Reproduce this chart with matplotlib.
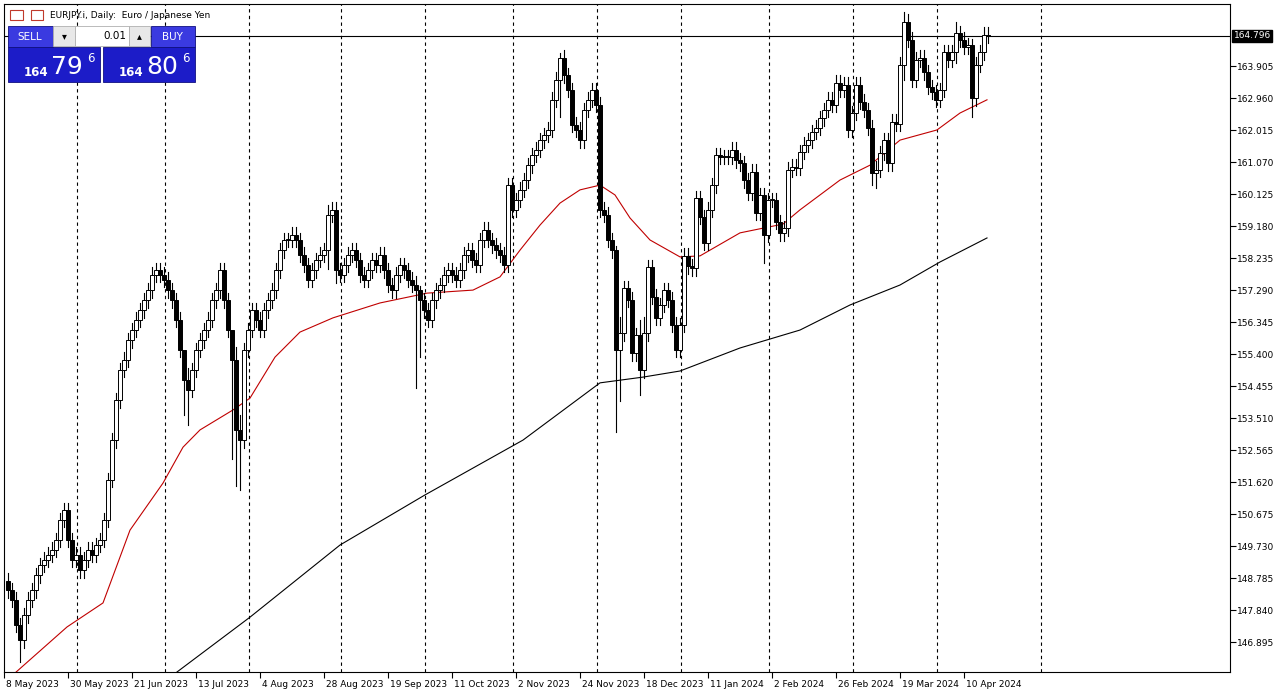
import matplotlib
matplotlib.use("Agg")
import matplotlib.pyplot as plt
from matplotlib.patches import Rectangle
import numpy as np

closes = [148.43,148.14,147.40,146.95,147.69,148.14,148.43,148.87,149.17,149.32,
149.47,149.62,149.91,150.50,150.79,149.91,149.32,149.47,149.02,149.32,
149.62,149.47,149.76,149.91,150.50,151.68,152.86,154.04,154.93,155.23,
155.81,156.11,156.41,156.70,156.99,157.29,157.74,157.88,157.74,157.59,
157.29,156.99,156.41,155.52,154.63,154.34,154.93,155.52,155.81,156.11,
156.41,156.99,157.29,157.88,156.99,156.11,155.23,153.16,152.86,155.52,
156.11,156.70,156.41,156.11,156.70,156.99,157.29,157.88,158.47,158.77,
158.77,158.92,158.77,158.33,158.03,157.59,157.88,158.18,158.33,158.47,
159.51,159.66,157.88,157.74,158.03,158.33,158.47,158.18,157.74,157.59,
157.88,158.18,158.03,158.33,157.88,157.44,157.29,157.74,158.03,157.88,
157.59,157.44,157.29,156.99,156.70,156.41,156.99,157.29,157.44,157.74,
157.88,157.74,157.59,157.88,158.33,158.47,158.18,158.03,158.77,159.07,
158.77,158.62,158.47,158.33,158.03,160.39,159.66,159.95,160.25,160.54,
160.98,161.28,161.43,161.72,161.87,162.02,162.91,163.50,164.15,163.64,
163.20,162.17,162.02,161.72,162.61,162.91,163.20,162.76,159.66,159.51,
158.77,158.47,155.52,156.02,157.35,157.00,155.43,155.96,154.93,156.02,
157.97,157.09,156.47,156.85,157.29,157.00,156.26,155.52,156.26,158.30,
158.00,157.94,160.01,159.45,158.68,159.66,160.39,161.28,161.22,161.22,
161.22,161.43,161.13,161.04,160.54,160.16,160.78,159.57,160.10,158.92,
159.95,159.95,159.30,158.97,159.12,160.84,160.93,160.90,161.37,161.58,
161.72,161.96,162.08,162.37,162.61,162.91,162.76,163.41,163.20,163.35,
162.02,162.52,163.35,162.85,162.61,162.08,160.75,160.84,161.34,161.72,
161.04,162.26,162.20,163.94,165.21,164.68,163.50,164.09,164.15,163.73,
163.29,163.14,162.91,163.20,164.32,164.09,164.32,164.88,164.68,164.47,
164.53,162.96,163.94,164.32,164.83,164.796]
first_open = 148.70
# notable long wicks: bar -> (high, low)
wick_overrides = {3: (147.6, 146.3), 56: (156.0, 152.3), 57: (155.6, 151.5), 58: (153.6, 151.4),
                  44: (155.2, 153.6), 45: (155.0, 153.3), 102: (157.7, 154.4), 103: (157.4, 155.3),
                  82: (159.9, 157.5), 80: (159.8, 157.9), 152: (158.6, 153.1), 153: (156.5, 154.0),
                  158: (156.4, 154.2), 159: (156.5, 154.7), 167: (156.5, 155.3), 189: (160.3, 158.1),
                  224: (165.5, 163.5), 241: (164.7, 162.4), 138: (164.3, 162.4), 216: (162.3, 160.4),
                  217: (161.1, 160.3), 237: (165.2, 164.0)}
default_wick = 0.22

red_ma_bar = [1.75,14.75,23.75,30.5,38.75,43.75,48,56.25,60.5,66.75,73,81.25,93,104.75,116.25,123,128,133,138,143,148,151.75,155.5,160.5,168,173,183,193.75,198,208,215.5,223,232.25,238,244.75]
red_ma_val = [145.98,147.34,148.05,150.20,151.59,152.65,153.16,153.75,154.10,155.31,156.05,156.47,156.91,157.20,157.29,157.68,158.47,159.21,159.86,160.25,160.39,160.10,159.42,158.77,158.27,158.30,158.98,159.24,159.66,160.54,160.98,161.72,162.02,162.52,162.91]
blk_ma_bar = [42.25,60.5,83,104.25,128.75,148,158.75,168,183,198,210.5,223,233,244.75]
blk_ma_val = [146.01,147.63,149.76,151.24,152.86,154.55,154.72,154.90,155.58,156.11,156.85,157.44,158.12,158.83]

date_labels = ["8 May 2023","30 May 2023","21 Jun 2023","13 Jul 2023","4 Aug 2023","28 Aug 2023",
               "19 Sep 2023","11 Oct 2023","2 Nov 2023","24 Nov 2023","18 Dec 2023","11 Jan 2024",
               "2 Feb 2024","26 Feb 2024","19 Mar 2024","10 Apr 2024"]
date_bars = [-1,15,31,47,63,79,95,111,127,143,159,175,191,207,223,239]
month_lines = [17.25,39.25,60.25,83.25,104.25,126.25,147.25,168.25,190.25,211.25,232.25,258.25]
price_ticks = [146.895,147.840,148.785,149.730,150.675,151.620,152.565,153.510,154.455,155.400,
               156.345,157.290,158.235,159.180,160.125,161.070,162.015,162.960,163.905]
last_price = 164.796

W, H = 1285, 696
fig = plt.figure(figsize=(W/100, H/100), dpi=100)
fig.patch.set_facecolor("white")
ax = fig.add_axes([4/W, 24/H, 1226/W, 668/H])
ax.set_xlim(-1, 305.5)
ax.set_ylim(146.01, 165.74)

opens = [first_open] + closes[:-1]
for i, (o, c) in enumerate(zip(opens, closes)):
    hi, lo = wick_overrides.get(i, (max(o, c) + default_wick, min(o, c) - default_wick))
    ax.plot([i, i], [lo, hi], color="black", lw=0.8, zorder=3)
    bot, top = min(o, c), max(o, c)
    ax.add_patch(Rectangle((i - 0.4, bot), 0.8, max(top - bot, 0.02),
                           facecolor="black" if c < o else "white", edgecolor="black", lw=0.7, zorder=4))

ax.plot(red_ma_bar, red_ma_val, color="#c00000", lw=0.8, zorder=2)
ax.plot(blk_ma_bar, blk_ma_val, color="black", lw=0.8, zorder=2)
for m in month_lines:
    ax.axvline(m, color="black", lw=0.8, ls=(0, (3, 3)), zorder=1)
ax.axhline(last_price, color="black", lw=0.8, zorder=2)

ax.yaxis.tick_right()
ax.set_yticks(price_ticks)
ax.set_yticklabels([f"{t:.3f}" for t in price_ticks], fontsize=6.5)
ax.tick_params(axis="y", length=4, width=0.8, pad=1)
ax.set_xticks(date_bars)
ax.set_xticklabels([])
ax.tick_params(axis="x", length=4, width=0.8)
for b, lab in zip(date_bars, date_labels):
    ax.text(b + 0.5, -0.012, lab, transform=ax.get_xaxis_transform(), ha="left", va="top", fontsize=6.5)
ax.text(1.003, (last_price - 146.01) / (165.74 - 146.01), f"{last_price:.3f}", transform=ax.transAxes,
        ha="left", va="center", fontsize=6.5, color="white",
        bbox=dict(boxstyle="square,pad=0.15", fc="black", ec="black"))
for s in ax.spines.values():
    s.set_linewidth(0.8)

def px(x, y, w, h, **kw):
    fig.add_artist(Rectangle((x/W, 1-(y+h)/H), w/W, h/H, transform=fig.transFigure, **kw))
def tx(x, y, s, **kw):
    fig.text(x/W, 1-y/H, s, **kw)

tx(50, 15, "EURJPY.i, Daily:  Euro / Japanese Yen", fontsize=6.5, va="center")
px(10, 10, 13, 10, fc="white", ec="#c0392b", lw=0.8)
px(31, 10, 12, 10, fc="white", ec="#c0392b", lw=0.8)
blue = "#1c1cc8"
px(8, 26, 45, 21, fc="#3a3ae0", ec="#101080", lw=0.6)
tx(30, 36.5, "SELL", fontsize=7.5, color="white", ha="center", va="center")
px(53, 26, 22, 20, fc="#e8e8e8", ec="#b0b0b0", lw=0.6)
px(75, 26, 54, 20, fc="white", ec="#b0b0b0", lw=0.6)
px(129, 26, 21, 20, fc="#e8e8e8", ec="#b0b0b0", lw=0.6)
tx(64, 36, "▾", fontsize=7, ha="center", va="center")
tx(139, 36, "▴", fontsize=7, ha="center", va="center")
tx(126, 36, "0.01", fontsize=7.5, ha="right", va="center")
px(151, 26, 44, 21, fc="#3a3ae0", ec="#101080", lw=0.6)
tx(172, 36.5, "BUY", fontsize=7.5, color="white", ha="center", va="center")
px(8, 47, 92, 35, fc=blue, ec="#101080", lw=0.6)
px(103, 47, 92, 35, fc=blue, ec="#101080", lw=0.6)
for x0, big in ((8, "79"), (103, "80")):
    tx(x0 + 16, 73, "164", fontsize=8.5, color="white", fontweight="bold", ha="left", va="center")
    tx(x0 + 43, 67, big, fontsize=18, color="white", ha="left", va="center")
    tx(x0 + 79, 58, "6", fontsize=8.5, color="white", ha="left", va="center")

fig.savefig("out.png", dpi=100)
